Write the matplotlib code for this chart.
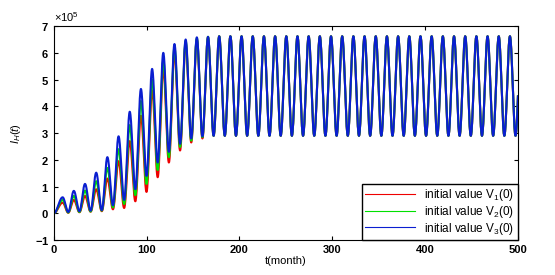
import matplotlib
matplotlib.use('Agg')
import matplotlib.pyplot as plt
import numpy as np

plt.rcParams['font.family'] = ['Liberation Sans', 'DejaVu Sans']
plt.rcParams['mathtext.fontset'] = 'custom'
plt.rcParams['mathtext.rm'] = 'Liberation Sans'
plt.rcParams['mathtext.it'] = 'Liberation Sans:italic'

# extrema of the curves (months), alternating peak / trough, values in 1e5
period = 12.05
first_peak = 9.5

# peaks (x 1e5)
peaks_v1 = [0.40, 0.50, 0.65, 0.90, 1.30, 1.95, 2.70, 3.65, 4.60, 5.40, 6.00, 6.35, 6.50, 6.58] + [6.62] * 28
peaks_v2 = [0.50, 0.65, 0.85, 1.20, 1.70, 2.40, 3.30, 4.20, 5.00, 5.70, 6.20, 6.45, 6.55, 6.60] + [6.62] * 28
peaks_v3 = [0.60, 0.84, 1.10, 1.52, 2.10, 2.88, 3.80, 4.65, 5.40, 6.00, 6.33, 6.50, 6.58, 6.60] + [6.62] * 28

# troughs (x 1e5)
troughs_v1 = [0.02, 0.04, 0.06, 0.08, 0.15, 0.20, 0.45, 0.80, 1.35, 1.90, 2.35, 2.65, 2.80] + [2.90] * 28
troughs_v2 = [0.03, 0.05, 0.07, 0.10, 0.22, 0.35, 0.68, 1.10, 1.62, 2.10, 2.48, 2.72, 2.85] + [2.90] * 28
troughs_v3 = [0.05, 0.08, 0.10, 0.12, 0.30, 0.50, 0.90, 1.40, 1.90, 2.30, 2.60, 2.80, 2.88] + [2.90] * 28

labels = ['initial value V$_1$(0)', 'initial value V$_2$(0)', 'initial value V$_3$(0)']
colors = ['#ee0000', '#00e000', '#0a1ed0']


def build_curve(peaks, troughs):
    # join the read extrema with half-cosine arcs
    t_ext = [0.0]
    v_ext = [0.0]
    for k in range(len(peaks)):
        t_ext.append(first_peak + period * k)
        v_ext.append(peaks[k])
        if k < len(troughs):
            t_ext.append(first_peak + period * (k + 0.5))
            v_ext.append(troughs[k])
    ts, vs = [], []
    for i in range(len(t_ext) - 1):
        s = np.linspace(0, 1, 30, endpoint=False)
        ts.append(t_ext[i] + (t_ext[i + 1] - t_ext[i]) * s)
        vs.append(v_ext[i] + (v_ext[i + 1] - v_ext[i]) * (1 - np.cos(np.pi * s)) / 2)
    return np.concatenate(ts), np.concatenate(vs) * 1e5


fig = plt.figure(figsize=(5.55, 2.75), dpi=100)
ax = fig.add_axes([0.097, 0.127, 0.836, 0.778])

for pk, tr, c, lab in zip([peaks_v1, peaks_v2, peaks_v3],
                          [troughs_v1, troughs_v2, troughs_v3], colors, labels):
    t, v = build_curve(pk, tr)
    ax.plot(t, v, color=c, lw=1.5, label=lab)

ax.set_xlim(0, 500)
ax.set_ylim(-1e5, 7e5)
ax.set_xticks(np.arange(0, 501, 100))
ax.set_yticks(np.arange(-1, 8) * 1e5)
ax.ticklabel_format(axis='y', style='sci', scilimits=(0, 0), useMathText=True)
ax.yaxis.get_offset_text().set_fontsize(8)
ax.tick_params(direction='in', top=True, right=True, labelsize=8, length=3)
for lab in ax.get_xticklabels() + ax.get_yticklabels():
    lab.set_fontweight('bold')
ax.set_xlabel('t(month)', fontsize=8, labelpad=1)
ax.set_ylabel('$I_H(t)$', fontsize=8, labelpad=8)

leg = ax.legend(loc='lower right', fontsize=8.5, borderaxespad=0, fancybox=False,
                edgecolor='black', framealpha=1, handlelength=4.2, labelspacing=0.05,
                borderpad=0.3)
for line in leg.get_lines():
    line.set_linewidth(0.8)
leg.get_frame().set_linewidth(1.0)

fig.savefig('out.png', dpi=100)
